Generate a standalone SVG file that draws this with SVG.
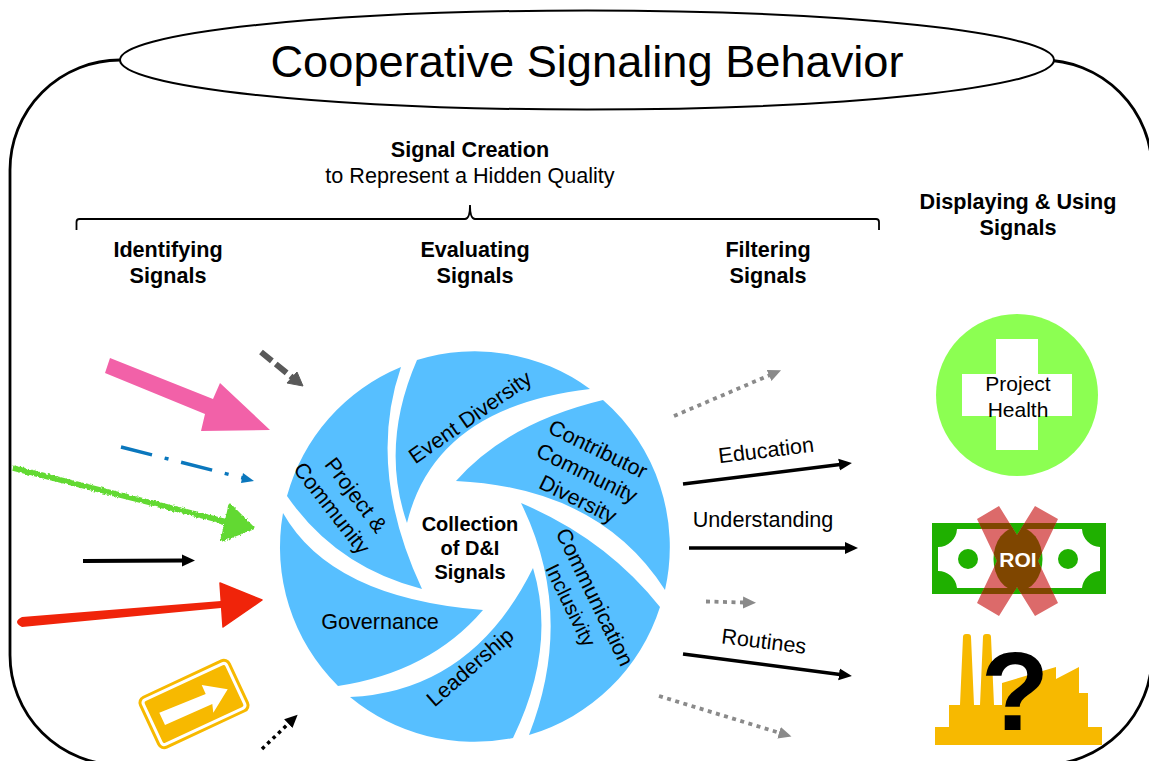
<svg xmlns="http://www.w3.org/2000/svg" width="1149" height="761" viewBox="0 0 1149 761">
<defs>
<style>
text{font-family:"Liberation Sans",Arial,sans-serif;fill:#000;text-anchor:middle}
.b{font-weight:bold;font-size:21.6px}
.n{font-size:21.6px}
.p{fill:#57bfff}
.c{fill:none;stroke:#000}
.bk{fill:none;stroke:#000;stroke-width:3.5;marker-end:url(#mb)}
.gy{fill:none;stroke:#8a8a8a;stroke-width:3.8;stroke-dasharray:4 4.5;marker-end:url(#mg)}
</style>
<marker id="mb" markerUnits="userSpaceOnUse" markerWidth="14" markerHeight="14" refX="1" refY="7" orient="auto"><path d="M0 1L13 7L0 13z" fill="#000"/></marker>
<marker id="mg" markerUnits="userSpaceOnUse" markerWidth="14" markerHeight="14" refX="1" refY="7" orient="auto"><path d="M0 1L13 7L0 13z" fill="#8a8a8a"/></marker>
<filter id="rough" x="-5%" y="-30%" width="110%" height="160%"><feTurbulence type="fractalNoise" baseFrequency="0.35" numOctaves="2" seed="4"/><feDisplacementMap in="SourceGraphic" scale="3.500" xChannelSelector="R" yChannelSelector="G"/></filter>
<clipPath id="xclip"><path id="xshape" d="M977 519L999 506L1017 535L1035 506L1058 519L1038 561L1058 603L1035 616L1017 587L999 616L977 603L997 561z"/></clipPath>
</defs>
<rect width="1149" height="761" fill="#fff"/>
<g id="frame">
<rect x="10" y="60" width="1142" height="705" rx="110" ry="110" class="c" stroke-width="2.800"/>
</g>
<g id="title">
<ellipse cx="587" cy="60" rx="467" ry="49.500" fill="#fff" stroke="#000" stroke-width="2"/>
<text x="587" y="76.500" font-size="45.200">Cooperative Signaling Behavior</text>
</g>
<g id="signal-creation">
<text x="470" y="157" class="b">Signal Creation</text>
<text x="470" y="183" class="n">to Represent a Hidden Quality</text>
<path d="M76.500 230V222Q76.500 219 79.500 219H465Q470 219 470 205Q470 219 475 219H876Q879 219 879 222V230" class="c" stroke-width="1.800"/>
</g>
<g id="heading-identifying"><text x="168" y="257" class="b">Identifying</text><text x="168" y="283" class="b">Signals</text></g>
<g id="heading-evaluating"><text x="475" y="257" class="b">Evaluating</text><text x="475" y="283" class="b">Signals</text></g>
<g id="heading-filtering"><text x="768" y="257" class="b">Filtering</text><text x="768" y="283" class="b">Signals</text></g>
<g id="heading-displaying"><text x="1018" y="209" class="b">Displaying &amp; Using</text><text x="1018" y="235" class="b">Signals</text></g>
<g id="petal-event">
<path class="p" d="M417 360A195 195 0 0 1 590 389Q435 407 407 523Q380 445 417 360z"/>
<text class="n" transform="translate(470 417) rotate(-35)" y="7.500">Event Diversity</text>
</g>
<g id="petal-contributor">
<path class="p" d="M603 400A195 195 0 0 1 665 590Q600 488 456 481Q507 423 603 400z"/>
<text class="n" transform="translate(598 449) rotate(26)" y="7.500">Contributor</text>
<text class="n" transform="translate(587 473) rotate(26)" y="7.500">Community</text>
<text class="n" transform="translate(578 499) rotate(26)" y="7.500">Diversity</text>
</g>
<g id="petal-communication">
<path class="p" d="M521 503Q606 539 660 607A195 195 0 0 1 529 735Q576 615 521 503z"/>
<text class="n" transform="translate(595 597) rotate(64)" y="7.500">Communication</text>
<text class="n" transform="translate(571 605) rotate(64)" y="7.500" style="font-size:20.500px">Inclusivity</text>
</g>
<g id="petal-leadership">
<path class="p" d="M533 568Q557 647 513 738A195 195 0 0 1 350 697Q472 691 533 568z"/>
<text class="n" transform="translate(470 667) rotate(-41)" y="7.500">Leadership</text>
</g>
<g id="petal-governance">
<path class="p" d="M483 610Q430 672 338 686A195 195 0 0 1 283 513Q331 598 483 610z"/>
<text class="n" x="380" y="629">Governance</text>
</g>
<g id="petal-project">
<path class="p" d="M422 589Q336 567 287 496A195 195 0 0 1 401 367Q366 469 422 589z"/>
<text class="n" transform="translate(356 495) rotate(53)" y="7.500">Project &amp;</text>
<text class="n" transform="translate(332 508) rotate(52)" y="7.500">Community</text>
</g>
<g id="center">
<text x="470" y="530.500" class="b" style="font-size:20px">Collection</text>
<text x="470" y="554.500" class="b" style="font-size:20px">of D&amp;I</text>
<text x="470" y="578.500" class="b" style="font-size:20px">Signals</text>
</g>
<g id="connectors">
<polygon points="110,358 213,399 220,383 270,430 201,431 205,414 105,373" fill="#f261a8"/>
<path d="M261 352L293 378" fill="none" stroke="#595959" stroke-width="6" stroke-dasharray="14 5"/>
<polygon points="297,372 303,386 287,383" fill="#595959" stroke="#595959" stroke-width="1"/>
<path d="M121 447L243 478" fill="none" stroke="#0a77bd" stroke-width="3.500" stroke-dasharray="32 13 4 13"/>
<polygon points="243,473 254,481 241,483" fill="#0a77bd"/>
<g filter="url(#rough)">
<path d="M13 468L227 522" fill="none" stroke="#62d932" stroke-width="5.500"/>
<path d="M230 505L253 528L222 540z" fill="#62d932" stroke="#62d932" stroke-width="3" stroke-linejoin="round"/>
</g>
<path d="M22 617L221 601V608L22 627Q12 622 22 617z" fill="#f0240a"/>
<path d="M220 583L262 600L223 627z" fill="#f0240a" stroke="#f0240a" stroke-width="1.500" stroke-linejoin="round"/>
<path d="M83 561L183 560.500" class="bk" style="stroke-width:4"/>
<path d="M262 749L289 723" class="bk" stroke-dasharray="3.500 4"/>
<path d="M674 416L770 375" class="gy"/>
<path d="M683 484L840 464.500" class="bk"/>
<path d="M689 548H846" class="bk"/>
<path d="M706 601.500L744 602.500" class="gy"/>
<path d="M683 654L840 674.500" class="bk"/>
<path d="M659 696L780 733" class="gy"/>
<text class="n" transform="translate(767 457.500) rotate(-7)">Education</text>
<text class="n" x="763" y="527">Understanding</text>
<text class="n" transform="translate(763 648.500) rotate(7)">Routines</text>
</g>
<g id="sign">
<rect x="-49" y="-27.500" width="98" height="55" rx="6" transform="translate(194 704) rotate(-25)" fill="#fff" stroke="#f7b900" stroke-width="3"/>
<rect x="-44.500" y="-23" width="89" height="46" rx="2" transform="translate(194 704) rotate(-25)" fill="#f7b900"/>
<polygon points="159.300,712.700 165,725 212.300,704 213.300,712.700 227.700,689.300 201.700,685 205.700,694" fill="#fff"/>
</g>
<g id="project-health">
<circle cx="1017" cy="395" r="81" fill="#8cff52"/>
<path d="M996 339H1038V374H1072V416H1038V450H996V416H962V374H996z" fill="#fff"/>
<text x="1018" y="391" style="font-size:21px">Project</text>
<text x="1018" y="417" style="font-size:21px">Health</text>
</g>
<g id="roi">
<path id="billshape" fill-rule="evenodd" d="M932 523H1106V594H932zM957 529H1082A19 19 0 0 0 1100 547V571A19 19 0 0 0 1082 588H957A19 19 0 0 0 938 571V547A19 19 0 0 0 957 529z" fill="#1fb000"/>
<circle cx="968" cy="559" r="10" fill="#1fb000"/>
<circle cx="1068" cy="559" r="10" fill="#1fb000"/>
<ellipse cx="1018" cy="559" rx="24.500" ry="32" fill="#1fb000"/>
<path d="M977 519L999 506L1017 535L1035 506L1058 519L1038 561L1058 603L1035 616L1017 587L999 616L977 603L997 561z" fill="#dc6a6a"/>
<g clip-path="url(#xclip)">
<path fill-rule="evenodd" d="M932 523H1106V594H932zM957 529H1082A19 19 0 0 0 1100 547V571A19 19 0 0 0 1082 588H957A19 19 0 0 0 938 571V547A19 19 0 0 0 957 529z" fill="#7f4600"/>
<ellipse cx="1018" cy="559" rx="24.500" ry="32" fill="#7f4600"/>
</g>
<text x="1018" y="566.500" style="fill:#fff;font-size:21px;font-weight:bold">ROI</text>
</g>
<g id="factory">
<path d="M935 745V727H949V705H960L963 637Q963 634 966 634H968Q971 634 971 637L974 705H980L983 637Q983 634 986 634H988Q991 634 991 637L994 705H1002V683L1056 667V679L1079 667V693H1088V727H1102V745z" fill="#f7b900"/>
<text x="1015" y="729.500" style="font-size:112px;font-weight:bold">?</text>
</g>
</svg>
